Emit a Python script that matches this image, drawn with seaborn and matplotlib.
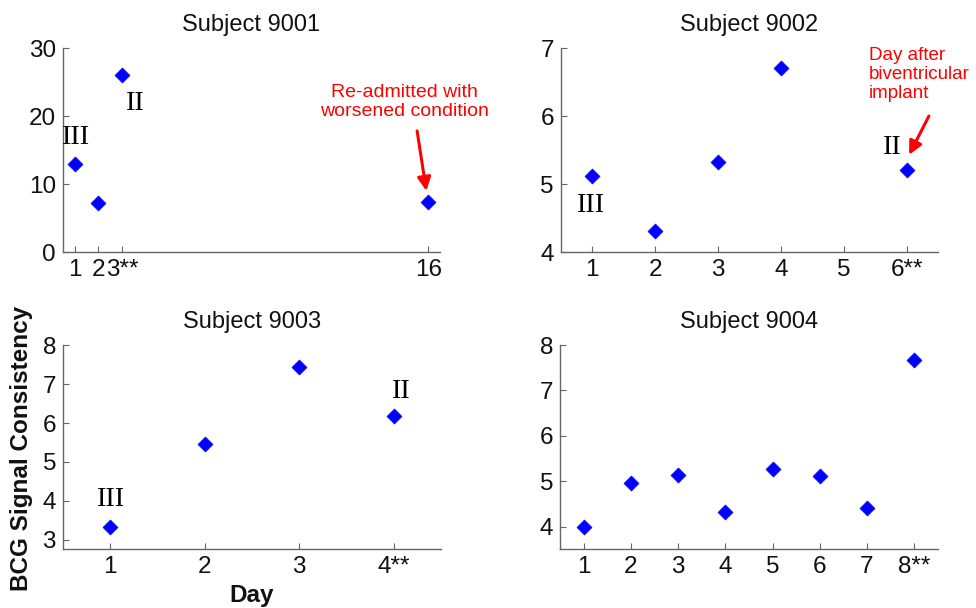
import matplotlib
matplotlib.use('Agg')
import matplotlib.pyplot as plt
import seaborn as sns
import pandas as pd

# ---- data ----
days_9001 = [1, 2, 3, 16]
vals_9001 = [13.0, 7.2, 26.1, 7.3]
ticks_9001 = ['1', '2', '3**', '16']

days_9002 = [1, 2, 3, 4, 6]
vals_9002 = [5.12, 4.31, 5.32, 6.71, 5.21]
ticks_9002 = ['1', '2', '3', '4', '5', '6**']

days_9003 = [1, 2, 3, 4]
vals_9003 = [3.33, 5.46, 7.44, 6.17]
ticks_9003 = ['1', '2', '3', '4**']

days_9004 = [1, 2, 3, 4, 5, 6, 7, 8]
vals_9004 = [4.00, 4.97, 5.14, 4.33, 5.27, 5.12, 4.40, 7.68]
ticks_9004 = ['1', '2', '3', '4', '5', '6', '7', '8**']

sns.set_theme(style='ticks')
plt.rcParams['font.family'] = ['Liberation Sans', 'DejaVu Sans']

fig = plt.figure(figsize=(9.76, 6.08), dpi=100)

panels = [
    dict(name='Subject 9001', days=days_9001, vals=vals_9001, ticklabels=ticks_9001,
         tickpos=days_9001, xlim=(0.5, 16.5), ylim=(0, 30), yticks=[0, 10, 20, 30],
         rect=[0.0645, 0.5855, 0.3863, 0.3355]),
    dict(name='Subject 9002', days=days_9002, vals=vals_9002, ticklabels=ticks_9002,
         tickpos=[1, 2, 3, 4, 5, 6], xlim=(0.5, 6.5), ylim=(4, 7), yticks=[4, 5, 6, 7],
         rect=[0.5745, 0.5855, 0.3866, 0.3355]),
    dict(name='Subject 9003', days=days_9003, vals=vals_9003, ticklabels=ticks_9003,
         tickpos=days_9003, xlim=(0.5, 4.5), ylim=(2.76, 8), yticks=[3, 4, 5, 6, 7, 8],
         rect=[0.0645, 0.0965, 0.3873, 0.336]),
    dict(name='Subject 9004', days=days_9004, vals=vals_9004, ticklabels=ticks_9004,
         tickpos=days_9004, xlim=(0.5, 8.5), ylim=(3.5, 8), yticks=[4, 5, 6, 7, 8],
         rect=[0.574, 0.0965, 0.3867, 0.336]),
]

spine_col = '#666666'
axes = []
for p in panels:
    ax = fig.add_axes(p['rect'])
    df = pd.DataFrame({'Day': p['days'], 'Value': p['vals']})
    sns.scatterplot(data=df, x='Day', y='Value', ax=ax, marker='D', s=58,
                    color='#0000ff', edgecolor='#0000ff', linewidth=0.5, legend=False)
    ax.set_xlim(*p['xlim'])
    ax.set_ylim(*p['ylim'])
    ax.set_xticks(p['tickpos'])
    ax.set_xticklabels(p['ticklabels'])
    ax.set_yticks(p['yticks'])
    ax.set_xlabel('')
    ax.set_ylabel('')
    ax.set_title(p['name'], fontsize=17, pad=12, color='#111111')
    sns.despine(ax=ax)
    for sp in ['left', 'bottom']:
        ax.spines[sp].set_color(spine_col)
        ax.spines[sp].set_linewidth(1.0)
    ax.tick_params(direction='in', length=4, width=0.8, color=spine_col,
                   labelsize=17.5, labelcolor='#111111', pad=5)
    ax.set_facecolor('white')
    axes.append(ax)

ax1, ax2, ax3, ax4 = axes
serif = dict(family=['Liberation Serif', 'DejaVu Serif'], fontsize=20.5, color='black',
             ha='center', va='center')

# Subject 9001 annotations
ax1.text(1.0, 16.9, 'III', **serif)
ax1.text(3.55, 21.8, 'II', **serif)
ax1.text(14.98, 22.1, 'Re-admitted with\nworsened condition', color='red',
         fontsize=14, ha='center', va='center', linespacing=1.15)
ax1.annotate('', xy=(15.92, 9.0), xytext=(15.53, 17.8),
             arrowprops=dict(arrowstyle='-|>', color='red', lw=2.2, mutation_scale=20,
                             shrinkA=0, shrinkB=0))

# Subject 9002 annotations
ax2.text(0.97, 4.69, 'III', **serif)
ax2.text(5.76, 5.53, 'II', **serif)
ax2.text(5.40, 6.61, 'Day after\nbiventricular\nimplant', color='red',
         fontsize=13.5, ha='left', va='center', linespacing=1.15, clip_on=False)
ax2.annotate('', xy=(6.04, 5.43), xytext=(6.355, 6.0),
             arrowprops=dict(arrowstyle='-|>', color='red', lw=2.2, mutation_scale=20,
                             shrinkA=0, shrinkB=0), annotation_clip=False)

# Subject 9003 annotations
ax3.text(1.0, 4.03, 'III', **serif)
ax3.text(4.07, 6.80, 'II', **serif)

fig.text(22 / 976, 0.263, 'BCG Signal Consistency', rotation=90, fontsize=17.5,
         fontweight='bold', ha='center', va='center', color='#111111')
fig.text(252 / 976, 0.021, 'Day', fontsize=17.5, fontweight='bold',
         ha='center', va='center', color='#111111')

fig.savefig('out.png', dpi=100, facecolor='white')
